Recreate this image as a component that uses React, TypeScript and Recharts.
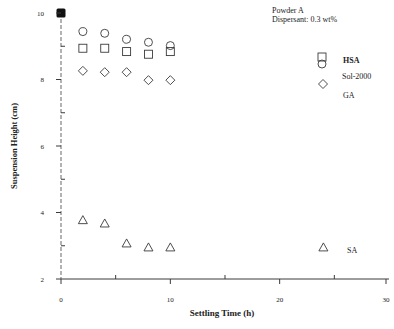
import { ScatterChart, Scatter, XAxis, YAxis } from "recharts";

// settling time (h) and suspension height (cm)
const time = [0, 2, 4, 6, 8, 10];
const hsaHeight = [10, 8.94, 8.94, 8.84, 8.76, 8.84];
const solHeight = [10, 9.44, 9.39, 9.21, 9.12, 9.02];
const gaHeight = [10, 8.26, 8.22, 8.22, 7.98, 7.98];
const saTime = [0, 2, 4, 6, 8, 10, 24];
const saHeight = [10, 3.77, 3.67, 3.07, 2.95, 2.95, 2.95];

const xTicks = [0, 5, 10, 15, 20, 25, 30];
const yTicks = [2, 3, 4, 5, 6, 7, 8, 9, 10];

const INK = "#3a3a3a";
const FONT = "'Liberation Serif', 'DejaVu Serif', serif";

const pts = (xs: number[], ys: number[]) => xs.map((x, i) => ({ x, y: ys[i] }));
const hsa = pts(time, hsaHeight);
const sol = pts(time, solHeight);
const ga = pts(time, gaHeight);
const sa = pts(saTime, saHeight);

const SquareMark = (p: any) =>
  p.payload.x === 0 ? (
    <rect x={p.cx - 4.5} y={p.cy - 4.5} width={9} height={9} rx={1.5} fill="#111" />
  ) : (
    <rect x={p.cx - 4} y={p.cy - 4} width={8} height={8} fill="none" stroke={INK} strokeWidth={0.9} />
  );

const CircleMark = (p: any) =>
  p.payload.x === 0 ? null : (
    <circle cx={p.cx} cy={p.cy} r={4} fill="none" stroke={INK} strokeWidth={0.9} />
  );

const DiamondMark = (p: any) =>
  p.payload.x === 0 ? null : (
    <path
      d={`M${p.cx},${p.cy - 4.5}L${p.cx + 4.5},${p.cy}L${p.cx},${p.cy + 4.5}L${p.cx - 4.5},${p.cy}Z`}
      fill="none"
      stroke={INK}
      strokeWidth={0.9}
    />
  );

const TriangleMark = (p: any) => (
  <path
    d={`M${p.cx},${p.cy - 4.5}L${p.cx + 4.5},${p.cy + 3.5}L${p.cx - 4.5},${p.cy + 3.5}Z`}
    fill="none"
    stroke={p.payload.x === 0 ? "#fff" : INK}
    strokeWidth={0.9}
  />
);

function XTick({ x, y, payload }: any) {
  const v = payload.value;
  const major = v % 10 === 0;
  return (
    <g>
      <line x1={x} x2={x} y1={y} y2={major ? y + 5 : y - 4} stroke={INK} />
      {major && (
        <text x={x} y={y + 23} textAnchor="middle" fontSize={7} fontFamily={FONT} fill="#222">
          {v}
        </text>
      )}
    </g>
  );
}

function YTick({ x, y, payload }: any) {
  const v = payload.value;
  const major = v % 2 === 0;
  return (
    <g>
      <line x1={x} x2={major ? x - 5 : x + 4} y1={y} y2={y} stroke={INK} />
      {major && (
        <text x={x - 17} y={y + 2.5} textAnchor="end" fontSize={7} fontFamily={FONT} fill="#222">
          {v}
        </text>
      )}
    </g>
  );
}

const txt = (left: number, top: number, s: string, extra: any = {}) => (
  <div
    style={{
      position: "absolute",
      left,
      top,
      fontSize: 8,
      fontFamily: FONT,
      color: "#222",
      whiteSpace: "nowrap",
      lineHeight: "9px",
      ...extra,
    }}
  >
    {s}
  </div>
);

export default function App() {
  return (
    <div style={{ position: "absolute", left: 0, top: 0, width: 394, height: 329, background: "#fff" }}>
      <ScatterChart width={394} height={329} margin={{ top: 13, right: 5, bottom: 0, left: 0 }}>
        <XAxis
          type="number"
          dataKey="x"
          domain={[0, 30]}
          ticks={xTicks}
          height={50}
          tickSize={0}
          tickMargin={0}
          tickLine={false}
          axisLine={{ stroke: INK, strokeWidth: 1 }}
          tick={(p: any) => <XTick {...p} />}
        />
        <YAxis
          type="number"
          dataKey="y"
          domain={[2, 10]}
          ticks={yTicks}
          width={61}
          tickSize={0}
          tickMargin={0}
          tickLine={false}
          axisLine={{ stroke: "#666", strokeWidth: 1, strokeDasharray: "4 2" }}
          tick={(p: any) => <YTick {...p} />}
        />
        <Scatter data={sa} shape={TriangleMark} isAnimationActive={false} />
        <Scatter data={ga} shape={DiamondMark} isAnimationActive={false} />
        <Scatter data={sol} shape={CircleMark} isAnimationActive={false} />
        <Scatter data={hsa} shape={SquareMark} isAnimationActive={false} />
      </ScatterChart>

      {txt(272, 6, "Powder A")}
      {txt(272, 15, "Dispersant: 0.3 wt%")}

      <svg style={{ position: "absolute", left: 0, top: 0 }} width={394} height={329}>
        <rect x={318} y={53} width={8} height={8} fill="none" stroke={INK} strokeWidth={0.9} />
        <circle cx={322} cy={64} r={4} fill="none" stroke={INK} strokeWidth={0.9} />
        <path d="M323,79.5L327.5,84L323,88.5L318.5,84Z" fill="none" stroke={INK} strokeWidth={0.9} />
      </svg>
      {txt(343, 56, "HSA", { fontWeight: 700 })}
      {txt(342, 72, "Sol-2000")}
      {txt(343, 91, "GA")}
      {txt(347, 246, "SA")}

      <div
        style={{
          position: "absolute",
          left: 222,
          top: 313,
          transform: "translate(-50%, -50%)",
          fontSize: 9,
          fontWeight: 700,
          fontFamily: FONT,
          color: "#222",
          whiteSpace: "nowrap",
        }}
      >
        Settling Time  (h)
      </div>
      <div
        style={{
          position: "absolute",
          left: 14,
          top: 146,
          transform: "translate(-50%, -50%) rotate(-90deg)",
          fontSize: 8.5,
          fontWeight: 700,
          fontFamily: FONT,
          color: "#222",
          whiteSpace: "nowrap",
        }}
      >
        Suspension Height  (cm)
      </div>
    </div>
  );
}
